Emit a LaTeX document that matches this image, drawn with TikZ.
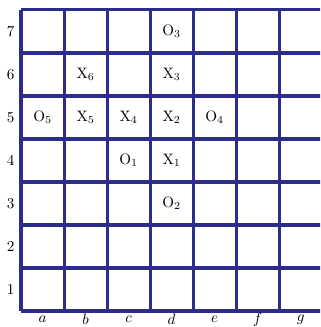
\documentclass[tikz,border=0pt]{standalone}
\definecolor{gridblue}{RGB}{44,44,140}
\begin{document}
\begin{tikzpicture}[x=1cm, y=1cm,
    gridline/.style={line width=2.1pt, gridblue}]
        \useasboundingbox (-0.49, -0.37) rectangle (6.95, 7.23);
        \clip (-0.49, -0.37) rectangle (6.95, 7.23);

        % Board lines
        \foreach \i in {0,...,7}
            \draw[gridline] (0, \i) -- (7.2, \i);
        \foreach \i in {0,...,6}
            \draw[gridline] (\i, 0) -- (\i, 7);

        % Row and column labels
        \foreach \r in {1,...,7}
            \node (row\r) at (-0.24, \r - 0.5) {\r};
        \foreach \c [count=\k] in {a,b,c,d,e,f,g}
            \node (col\c) at (\k - 0.5, -0.2) {$\c$};

        % Moves
        \node (O3) at (3.5, 6.5) {O$_3$};
        \node (X6) at (1.5, 5.5) {X$_6$};
        \node (X3) at (3.5, 5.5) {X$_3$};
        \node (O5) at (0.5, 4.5) {O$_5$};
        \node (X5) at (1.5, 4.5) {X$_5$};
        \node (X4) at (2.5, 4.5) {X$_4$};
        \node (X2) at (3.5, 4.5) {X$_2$};
        \node (O4) at (4.5, 4.5) {O$_4$};
        \node (O1) at (2.5, 3.5) {O$_1$};
        \node (X1) at (3.5, 3.5) {X$_1$};
        \node (O2) at (3.5, 2.5) {O$_2$};
    \end{tikzpicture}
\end{document}
